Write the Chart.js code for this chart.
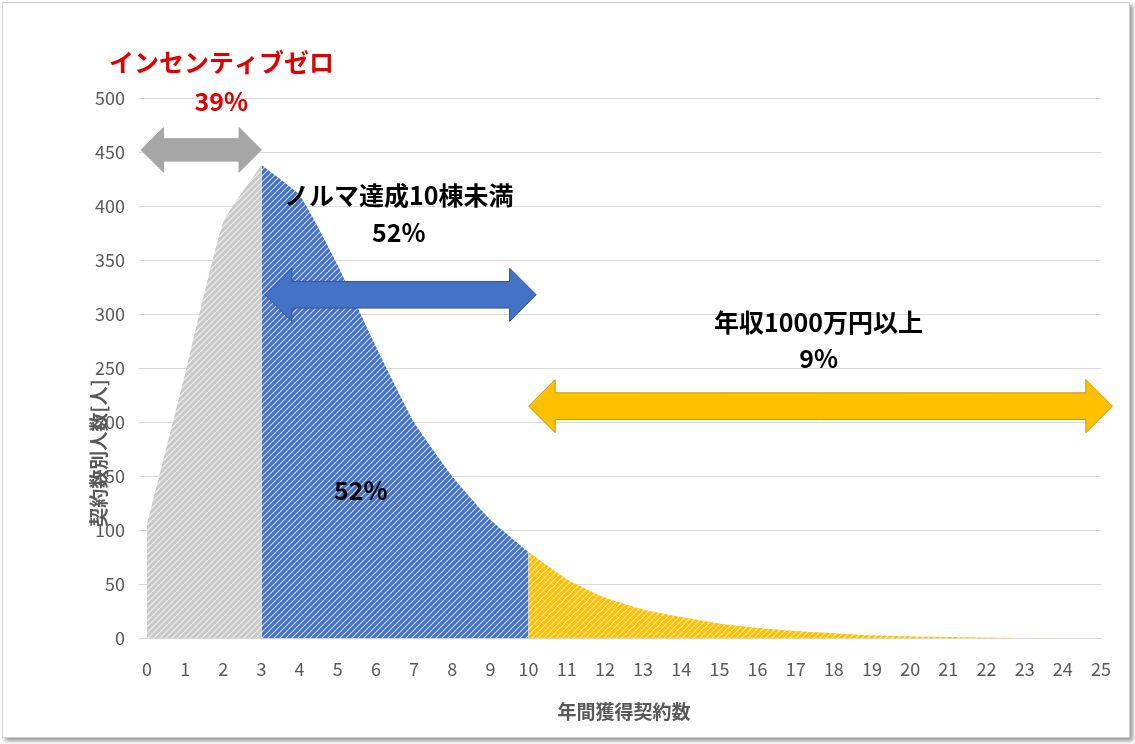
<!DOCTYPE html>
<html><head><meta charset="utf-8">
<script src="https://cdn.jsdelivr.net/npm/chart.js@4/dist/chart.umd.min.js"></script>
<style>
html,body{margin:0;padding:0;background:#fff;}
#wrap{position:absolute;left:2px;top:2px;width:1126px;height:734px;border:1px solid #d0d0d0;box-shadow:3px 3px 4px #999;background:#fff;}
</style></head><body>
<div id="wrap"><canvas id="c" width="1126" height="734"></canvas></div>
<script>
const xs=[0,1,2,3,4,5,6,7,8,9,10,11,12,13,14,15,16,17,18,19,20,21,22,23,24,25];
const counts=[105,245,385,438,410,345,270,200,150,110,80,55,38,27,20,14,10,7,5,3,2,1.5,1,0.5,0.3,0.2];
const yTicks=[0,50,100,150,200,250,300,350,400,450,500];
const segments=[{from:0,to:3,color:'#c9c9c9'},{from:3,to:10,color:'#4472c4'},{from:10,to:25,color:'#ffc000'}];
const arrows=[{x1:-0.15,x2:3,y:452,color:'#a5a5a5',h:0.8},{x1:3.1,x2:10.2,y:318,color:'#4472c4',h:0.95},{x1:10,x2:25.3,y:215,color:'#ffc000',h:0.95}];
const labels=[
 {text:'インセンティブゼロ',x:1.95,y:533,color:'#e00000'},
 {text:'39%',x:1.95,y:497,color:'#e00000'},
 {text:'ノルマ達成10棟未満',x:6.6,y:410,color:'#000'},
 {text:'52%',x:6.6,y:376,color:'#000'},
 {text:'年収1000万円以上',x:17.6,y:292,color:'#000'},
 {text:'9%',x:17.6,y:259,color:'#000'},
 {text:'52%',x:5.6,y:137,color:'#000'}];
function hatch(col){const c=document.createElement('canvas');c.width=6;c.height=6;const g=c.getContext('2d');
 g.fillStyle=col;g.fillRect(0,0,6,6);g.strokeStyle='rgba(255,255,255,0.7)';g.lineWidth=1.2;
 g.beginPath();g.moveTo(0,6);g.lineTo(6,0);g.moveTo(-3,3);g.lineTo(3,-3);g.moveTo(3,9);g.lineTo(9,3);g.stroke();
 return g.createPattern(c,'repeat');}
const ctx=document.getElementById('c').getContext('2d');
const datasets=segments.map(s=>({data:xs.map((x,i)=>({x,y:counts[i]})).filter(p=>p.x>=s.from&&p.x<=s.to),
 fill:'origin',backgroundColor:hatch(s.color),borderWidth:0,pointRadius:0,tension:0.15}));
const deco={id:'deco',afterDatasetsDraw(ch){const g=ch.ctx,X=ch.scales.x,Y=ch.scales.y;
 arrows.forEach(a=>{const x1=X.getPixelForValue(a.x1),x2=X.getPixelForValue(a.x2),y=Y.getPixelForValue(a.y);
  const hb=14*a.h,hh=28*a.h,hl=28*a.h;g.save();g.fillStyle=a.color;g.strokeStyle=a.color==='#a5a5a5'?'#a5a5a5':(a.color==='#ffc000'?'#c99a00':'#2f5597');g.lineWidth=1;
  g.beginPath();g.moveTo(x1,y);g.lineTo(x1+hl,y-hh);g.lineTo(x1+hl,y-hb);g.lineTo(x2-hl,y-hb);g.lineTo(x2-hl,y-hh);g.lineTo(x2,y);
  g.lineTo(x2-hl,y+hh);g.lineTo(x2-hl,y+hb);g.lineTo(x1+hl,y+hb);g.lineTo(x1+hl,y+hh);g.closePath();g.fill();g.stroke();g.restore();});
 labels.forEach(l=>{g.save();g.font='bold 25px "Noto Sans CJK JP"';g.fillStyle=l.color;g.textAlign='center';g.textBaseline='middle';
  g.fillText(l.text,X.getPixelForValue(l.x),Y.getPixelForValue(l.y));g.restore();});}};
new Chart(ctx,{type:'line',data:{datasets},plugins:[deco],options:{responsive:false,animation:false,
 layout:{padding:{top:95,right:28,left:78,bottom:10}},
 plugins:{legend:{display:false},tooltip:{enabled:false}},
 scales:{x:{type:'linear',min:0,max:25,ticks:{stepSize:1,color:'#595959',font:{size:18,family:'"Noto Sans CJK JP"'},padding:12},
   grid:{display:false},border:{color:'#d9d9d9'},
   title:{display:true,text:'年間獲得契約数',color:'#595959',font:{size:19,weight:'bold',family:'"Noto Sans CJK JP"'},padding:{top:8}}},
  y:{min:0,max:500,afterBuildTicks:s=>{s.ticks=yTicks.map(v=>({value:v}));},ticks:{color:'#595959',font:{size:18,family:'"Noto Sans CJK JP"'},padding:14},
   grid:{color:'#d9d9d9'},border:{display:false},
   title:{display:false}}}}});
// y title drawn as separate rotated text via CSS-free canvas overlay
const c2=document.createElement('canvas');c2.width=40;c2.height=300;c2.style.cssText='position:absolute;left:76px;top:300px';
document.getElementById('wrap').appendChild(c2);const g2=c2.getContext('2d');
g2.translate(20,150);g2.rotate(-Math.PI/2);g2.font='bold 19px "Noto Sans CJK JP"';g2.fillStyle='#595959';g2.textAlign='center';g2.textBaseline='middle';g2.fillText('契約数別人数[人]',0,0);
</script></body></html>
